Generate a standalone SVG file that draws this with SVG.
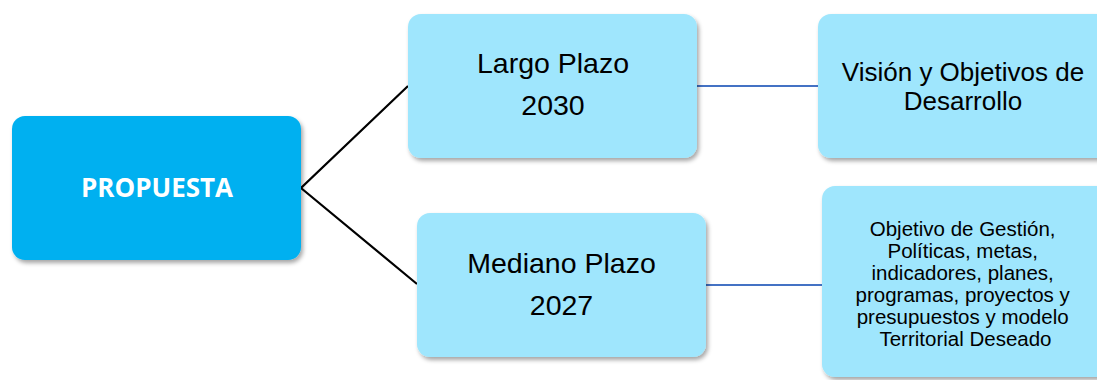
<svg xmlns="http://www.w3.org/2000/svg" width="1097" height="380" viewBox="0 0 1097 380">
  <defs>
    <filter id="sh" x="-10%" y="-10%" width="125%" height="130%">
      <feDropShadow dx="2" dy="3" stdDeviation="2" flood-color="#000" flood-opacity="0.35"/>
    </filter>
  </defs>
  <style>
    .main { fill: #00B0F0; filter: url(#sh); }
    .sub { fill: #9FE6FD; filter: url(#sh); }
    .t { font-family: "Liberation Sans", Arial, sans-serif; fill: #000; text-anchor: middle; }
    .tb { font-family: "Open Sans", "Liberation Sans", sans-serif; font-weight: 700; fill: #fff; text-anchor: middle; font-size: 26px; }
    .k { stroke: #000; stroke-width: 2.2; fill: none; }
    .b { stroke: #4472C4; stroke-width: 2.2; fill: none; }
  </style>
  <rect width="1097" height="380" fill="#fff"/>
  <g id="connectors">
    <polyline class="k" points="408,86 301,188 417,284"/>
    <line class="b" x1="697" y1="86" x2="818" y2="86"/>
    <line class="b" x1="706" y1="285" x2="822" y2="285"/>
  </g>
  <g id="propuesta">
    <rect class="main" x="12" y="116" width="289" height="144" rx="13"/>
    <text class="tb" x="157" y="197">PROPUESTA</text>
  </g>
  <g id="largo">
    <rect class="sub" x="408" y="14" width="289" height="144" rx="13"/>
    <text class="t" x="553" y="73" font-size="28.5">Largo Plazo</text>
    <text class="t" x="553" y="115" font-size="28.5">2030</text>
  </g>
  <g id="mediano">
    <rect class="sub" x="417" y="213" width="289" height="144" rx="13"/>
    <text class="t" x="561.5" y="273" font-size="28.5">Mediano Plazo</text>
    <text class="t" x="561.5" y="315" font-size="28.5">2027</text>
  </g>
  <g id="vision">
    <rect class="sub" x="818" y="14" width="292" height="144" rx="13"/>
    <text class="t" x="963" y="81" font-size="26">Visión y Objetivos de</text>
    <text class="t" x="963" y="110" font-size="26">Desarrollo</text>
  </g>
  <g id="objetivo">
    <rect class="sub" x="822" y="186" width="288" height="191" rx="13"/>
    <text class="t" font-size="20.5">
      <tspan x="965.5" y="236">Objetivo de Gestión,</tspan>
      <tspan x="965.5" y="258">Políticas, metas,</tspan>
      <tspan x="965.5" y="280">indicadores, planes,</tspan>
      <tspan x="965.5" y="302">programas, proyectos y</tspan>
      <tspan x="965.5" y="324">presupuestos y modelo</tspan>
      <tspan x="965.5" y="346">Territorial Deseado</tspan>
    </text>
  </g>
</svg>
